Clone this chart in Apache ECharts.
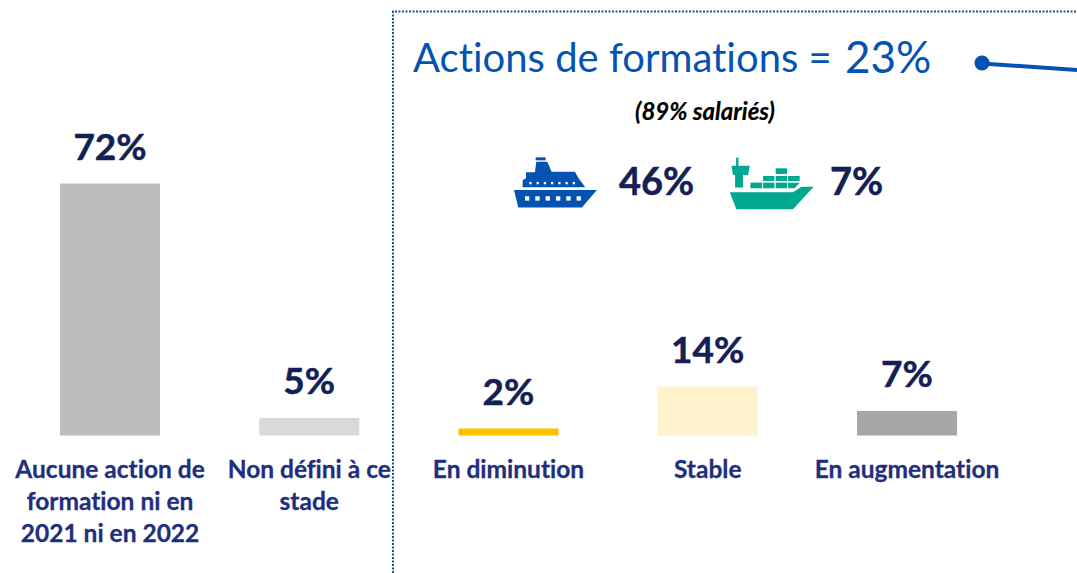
<!DOCTYPE html>
<html>
<head>
<meta charset="utf-8">
<style>
html, body { margin: 0; padding: 0; background: #fff; }
#mainArea { width: 1077px; height: 573px; }
#mainArea text { font-variant-ligatures: none; }
</style>
<script src="https://cdn.jsdelivr.net/npm/echarts@6/dist/echarts.min.js"></script>
</head>
<body>
<div id="mainArea"></div>
<script>
var categories = ['Aucune action de\nformation ni en\n2021 ni en 2022', 'Non défini à ce\nstade', 'En diminution', 'Stable', 'En augmentation'];
var values = [72, 5, 2, 14, 7];
var barColors = ['#bdbdbd', '#d9d9d9', '#ffc000', '#fff2cc', '#a6a6a6'];

var fontName = 'Lato';
var blue = '#0553b1';
var green = '#00a88f';
var navy = '#141f55';
var labelBlue = '#1f2f7e';

// icons are drawn in the coordinates of a 3x crop, the group scales them down
function poly(points, fill) {
	return { type: 'polygon', shape: { points: points }, style: { fill: fill } };
}
function box(x, y, w, h, fill) {
	return { type: 'rect', shape: { x: x, y: y, width: w, height: h }, style: { fill: fill } };
}

function cruiseIcon() {
	var c = [
		box(107, 37, 30, 9, blue),
		poly([[109, 50], [142, 50], [155, 80], [225, 80], [236, 100], [256, 127], [68, 127], [68, 106], [78, 100], [78, 82], [105, 82]], blue),
		poly([[42, 135], [291, 135], [246, 188], [55, 188]], blue)
	];
	for (var i = 0; i < 7; i++) {
		c.push(box(88 + i * 21.7, 111, 7, 7, '#fff'));
	}
	for (var j = 0; j < 6; j++) {
		c.push(box(75 + j * 31, 154, 13, 13, '#fff'));
	}
	return c;
}

function cargoIcon() {
	return [
		box(709, 38, 7, 26, green),
		poly([[695, 62], [750, 62], [745, 90], [730, 90], [730, 128], [706, 128], [706, 90], [700, 90]], green),
		box(828, 70, 34, 17, green),
		box(790, 93, 34, 15, green),
		box(828, 93, 34, 15, green),
		box(865, 93, 35, 15, green),
		box(752, 113, 35, 17, green),
		box(790, 113, 34, 17, green),
		box(828, 113, 34, 17, green),
		poly([[865, 113], [900, 113], [885, 130], [865, 130]], green),
		poly([[690, 142], [880, 142], [905, 125], [942, 125], [880, 193], [710, 193]], green)
	];
}

function bigText(x, y, text, opt) {
	return {
		type: 'text',
		x: x,
		y: y,
		style: {
			text: text,
			fontFamily: fontName,
			fontSize: opt.size,
			fontWeight: opt.weight || 'normal',
			fontStyle: opt.italic ? 'italic' : 'normal',
			fill: opt.color,
			stroke: opt.weight ? opt.color : null,
			lineWidth: opt.weight ? (opt.border || 0.5) : 0,
			align: opt.align || 'left',
			verticalAlign: 'middle'
		}
	};
}

var option = {
	animation: false,
	backgroundColor: '#fff',
	grid: { left: 10.4, right: 70.4, top: 85.5, bottom: 137.5 },
	xAxis: {
		type: 'category',
		data: categories,
		axisLine: { show: false },
		axisTick: { show: false },
		axisLabel: {
			interval: 0,
			margin: 17,
			fontFamily: fontName,
			fontSize: 24.5,
			fontWeight: 'bold',
			lineHeight: 32,
			color: labelBlue,
			textBorderColor: labelBlue,
			textBorderWidth: 0.3,
			align: 'center'
		}
	},
	yAxis: { type: 'value', min: 0, max: 100, show: false },
	series: [{
		type: 'bar',
		barWidth: 100,
		data: values.map(function (v, i) {
			return { value: v, itemStyle: { color: barColors[i] } };
		}),
		label: {
			show: true,
			position: 'top',
			distance: 20,
			formatter: '{c}%',
			fontFamily: fontName,
			fontSize: 37,
			fontWeight: 'bold',
			color: navy,
			textBorderColor: navy,
			textBorderWidth: 0.5
		}
	}],
	graphic: [
		{
			type: 'polyline',
			shape: { points: [[393, 573], [393, 11.5], [1077, 11.5]] },
			style: { fill: null, stroke: '#1a5296', lineWidth: 2, lineDash: [2, 1.5] }
		},
		bigText(413, 57, 'Actions de formations =', { size: 40, color: blue }),
		bigText(845, 56, '23%', { size: 44, color: blue }),
		{
			type: 'line',
			shape: { x1: 982, y1: 63.5, x2: 1077, y2: 70 },
			style: { stroke: blue, lineWidth: 4 }
		},
		{ type: 'circle', shape: { cx: 982, cy: 63, r: 7.5 }, style: { fill: blue } },
		bigText(705, 110, '(89% salariés)', { size: 24, weight: 'bold', italic: true, color: '#000', align: 'center', border: 0.2 }),
		{ type: 'group', x: 500, y: 145, scaleX: 1 / 3, scaleY: 1 / 3, children: cruiseIcon() },
		{ type: 'group', x: 500, y: 145, scaleX: 1 / 3, scaleY: 1 / 3, children: cargoIcon() },
		bigText(619, 180, '46%', { size: 38, weight: 'bold', color: navy }),
		bigText(830, 180, '7%', { size: 38, weight: 'bold', color: navy })
	]
};

var myChart = echarts.init(document.getElementById('mainArea'), null, { renderer: 'svg' });
myChart.setOption(option);
</script>
</body>
</html>
